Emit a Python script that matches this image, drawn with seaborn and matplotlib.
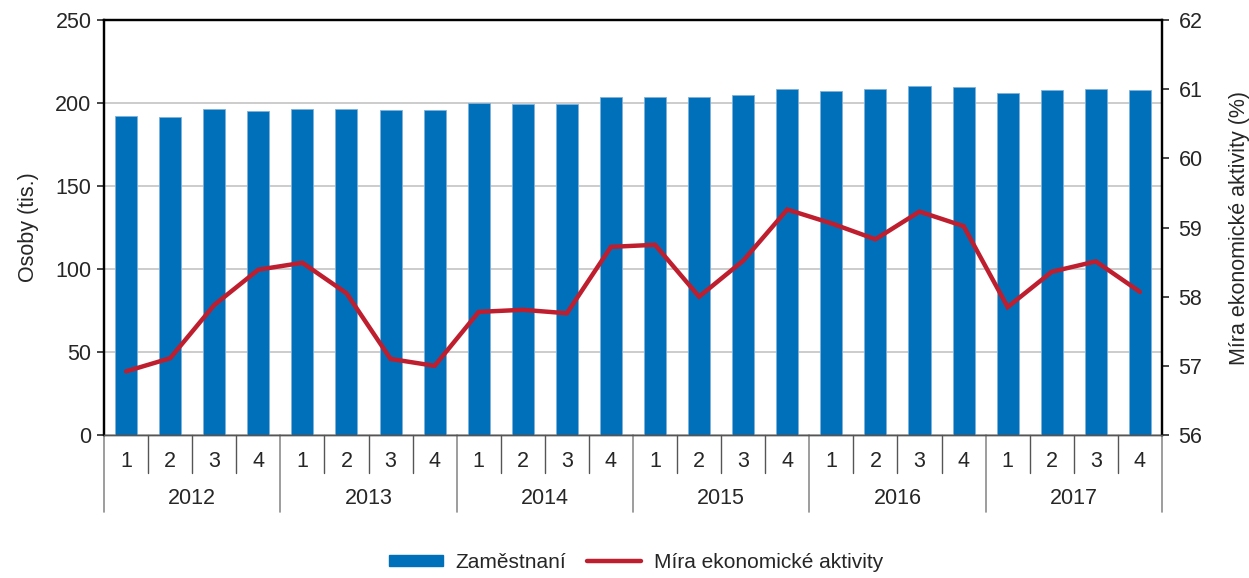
import numpy as np
import pandas as pd
import matplotlib
matplotlib.use("Agg")
import matplotlib.pyplot as plt
import matplotlib.transforms as mtransforms
from matplotlib.patches import Patch
from matplotlib.lines import Line2D
import seaborn as sns

# data
years = [2012, 2013, 2014, 2015, 2016, 2017]
quarters = [1, 2, 3, 4]
employed = [191.9, 191.3, 196.3, 195.3, 196.1, 196.1, 195.9, 195.7,
            200.2, 199.6, 199.6, 203.8, 203.6, 203.4, 204.6, 208.2,
            207.0, 208.6, 210.4, 209.4, 205.8, 207.8, 208.4, 207.6]
activity_rate = [56.92, 57.11, 57.88, 58.39, 58.49, 58.05, 57.10, 57.00,
                 57.78, 57.81, 57.76, 58.72, 58.75, 58.00, 58.52, 59.26,
                 59.06, 58.83, 59.23, 59.02, 57.85, 58.36, 58.51, 58.07]
left_ticks = [0, 50, 100, 150, 200, 250]
right_ticks = [56, 57, 58, 59, 60, 61, 62]

BLUE = "#0070BA"
RED = "#BE1E2D"
FS = 15.5

sns.set_style("white")
plt.rcParams["font.family"] = ["Liberation Sans", "DejaVu Sans"]
plt.rcParams["font.size"] = FS

df = pd.DataFrame({
    "rok": np.repeat(years, len(quarters)),
    "q": quarters * len(years),
    "zam": employed,
    "mira": activity_rate,
})
df["key"] = df["rok"].astype(str) + "-" + df["q"].astype(str)
df["pos"] = np.arange(len(df))

fig = plt.figure(figsize=(12.49, 5.78), dpi=100)
ax = fig.add_axes([0.0833, 0.2474, 0.8470, 0.7180])

sns.barplot(data=df, x="key", y="zam", color=BLUE, width=0.5, ax=ax,
            saturation=1, edgecolor="#7FB2DA", linewidth=0.6, zorder=2)
ax.set_ylim(0, 250)
ax.set_yticks(left_ticks)
ax.yaxis.grid(True, color="#C4C4C4", linewidth=1.2, zorder=0)
ax.set_axisbelow(True)
ax.set_ylabel("Osoby (tis.)", fontsize=FS, labelpad=12)
ax.set_xlabel("")

ax2 = ax.twinx()
sns.lineplot(data=df, x="pos", y="mira", color=RED, linewidth=3.2, ax=ax2,
             solid_joinstyle="miter", zorder=3)
ax2.set_ylim(56, 62)
ax2.set_yticks(right_ticks)
ax2.set_ylabel("Míra ekonomické aktivity (%)", fontsize=FS, labelpad=19)
ax2.set_xlabel("")
ax.set_xlim(-0.5, len(df) - 0.5)

for a in (ax, ax2):
    for s in a.spines.values():
        s.set_color("black")
        s.set_linewidth(1.6)
    a.spines["bottom"].set_color("#555555")
    a.spines["bottom"].set_linewidth(1.0)
ax.tick_params(axis="y", direction="out", length=5, width=1.2, pad=4,
               left=True, labelsize=FS)
ax2.tick_params(axis="y", direction="out", length=5, width=1.2, pad=7,
                right=True, labelsize=FS)

# two level category axis: quarters and years
ax.set_xticks([])
ax2.set_xticks([])
trans = mtransforms.blended_transform_factory(ax.transData, ax.transAxes)
n = len(df)
for i in range(n + 1):
    x = i - 0.5
    if i % 4 == 0:
        ax.add_line(Line2D([x, x], [0, -0.1855], transform=trans, color="#8C8C8C",
                           linewidth=1.2, clip_on=False))
    else:
        ax.add_line(Line2D([x, x], [0, -0.0916], transform=trans, color="#555555",
                           linewidth=1.0, clip_on=False))
for i, q in enumerate(df["q"]):
    ax.text(i, -0.065, str(q), transform=trans, ha="center", va="center",
            fontsize=FS)
for j, y in enumerate(years):
    ax.text(j * 4 + 1.5, -0.152, str(y), transform=trans, ha="center",
            va="center", fontsize=FS)

handles = [Patch(facecolor=BLUE, edgecolor=BLUE),
           Line2D([0], [0], color=RED, linewidth=3.2, solid_capstyle="round")]
fig.legend(handles, ["Zaměstnaní", "Míra ekonomické aktivity"], loc="center",
           bbox_to_anchor=(0.509, 0.027), ncol=2, frameon=False, fontsize=15,
           handlelength=2.6, handleheight=0.5, columnspacing=1.0,
           handletextpad=0.6)

fig.savefig("out.png", dpi=100)
